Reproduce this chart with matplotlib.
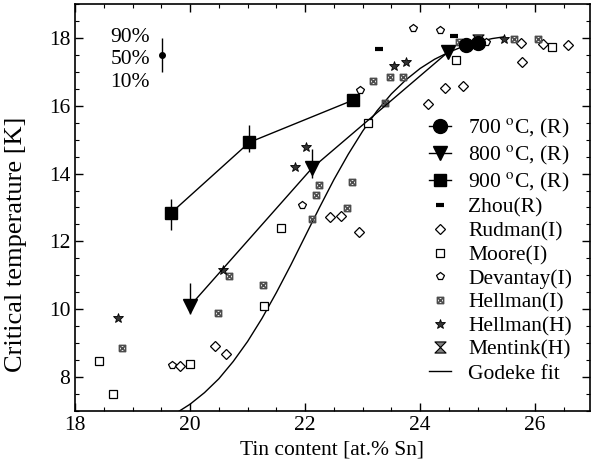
import numpy as np
import matplotlib.pyplot as plt
from matplotlib.path import Path

plt.rcParams['font.family'] = ['Liberation Serif', 'DejaVu Serif']
plt.rcParams['mathtext.fontset'] = 'stix'

# annealed samples (R)
t700_x = [24.79, 25.0]
t700_y = [17.80, 17.85]

t800_x = [20.0, 22.12, 24.49]
t800_y = [10.1, 14.16, 17.59]
t800_lo = [9.85, 13.87, 17.59]   # 10% values
t800_hi = [10.78, 14.73, 17.59]  # 90% values

t900_x = [19.67, 21.03, 22.84]
t900_y = [12.84, 14.92, 16.17]
t900_lo = [12.34, 14.65, 16.17]
t900_hi = [13.25, 15.43, 16.17]

zhou_x = [23.29, 24.59]
zhou_y = [17.67, 18.06]

rudman_x = [19.83, 20.43, 20.63, 22.43, 22.62, 22.93, 24.13, 24.43, 24.75, 25.75, 25.77, 26.13, 26.57]
rudman_y = [8.32, 8.91, 8.67, 12.71, 12.76, 12.29, 16.04, 16.52, 16.58, 17.84, 17.29, 17.81, 17.79]

moore_x = [18.42, 18.66, 20.0, 21.28, 21.58, 23.09, 24.62, 26.29]
moore_y = [8.47, 7.49, 8.39, 10.09, 12.39, 15.5, 17.36, 17.74]

devantay_x = [19.68, 21.94, 22.96, 23.88, 24.34, 25.15]
devantay_y = [8.37, 13.06, 16.46, 18.28, 18.23, 17.87]

hellI_x = [18.81, 20.48, 20.68, 21.26, 22.12, 22.19, 22.25, 22.72, 22.81, 23.18, 23.39, 23.47, 23.70, 24.68, 25.64, 26.05]
hellI_y = [8.86, 9.89, 10.99, 10.71, 12.66, 13.38, 13.65, 12.98, 13.76, 16.74, 16.09, 16.84, 16.85, 17.88, 17.98, 17.98]

hellH_x = [18.74, 20.58, 21.82, 22.01, 23.55, 23.76, 25.45]
hellH_y = [9.75, 11.17, 14.18, 14.79, 17.17, 17.28, 17.96]

mentink_x = [25.0]
mentink_y = [17.95]

# Godeke fit
fit_x = [19.75, 20.0, 20.25, 20.5, 20.75, 21.0, 21.25, 21.5, 21.75, 22.0, 22.25, 22.5, 22.75,
         23.0, 23.25, 23.5, 23.75, 24.0, 24.25, 24.5, 24.75, 25.0, 25.25, 25.45]
fit_y = [6.93, 7.20, 7.54, 7.95, 8.46, 9.05, 9.73, 10.49, 11.30, 12.15, 13.00, 13.82, 14.57,
         15.25, 15.85, 16.35, 16.76, 17.10, 17.37, 17.58, 17.75, 17.88, 17.98, 18.03]

# custom markers
box_x = Path([(-1, -1), (1, -1), (1, 1), (-1, 1), (-1, -1), (-1, -1), (1, 1), (-1, 1), (1, -1)],
             [Path.MOVETO, Path.LINETO, Path.LINETO, Path.LINETO, Path.LINETO,
              Path.MOVETO, Path.LINETO, Path.MOVETO, Path.LINETO])
hourglass = Path([(-1, 1), (1, 1), (-1, -1), (1, -1), (-1, 1)],
                 [Path.MOVETO, Path.LINETO, Path.LINETO, Path.LINETO, Path.CLOSEPOLY])

fs = 15.5

fig = plt.figure(figsize=(5.91, 4.76), dpi=100)
ax = fig.add_axes([0.127, 0.1366, 0.871, 0.855])

ax.plot(fit_x, fit_y, '-', color='k', lw=1.0, zorder=2)

ax.plot(rudman_x, rudman_y, 'D', ms=5, mfc='white', mec='k', mew=0.9, ls='none', zorder=3)
ax.plot(moore_x, moore_y, 's', ms=5.5, mfc='white', mec='k', mew=0.9, ls='none', zorder=3)
ax.plot(devantay_x, devantay_y, 'p', ms=6, mfc='white', mec='k', mew=0.9, ls='none', zorder=3)
ax.plot(hellI_x, hellI_y, marker=box_x, ms=4.5, mfc='none', mec='0.3', mew=1.1, ls='none', zorder=3)
ax.plot(hellH_x, hellH_y, '*', ms=7.5, mfc='0.2', mec='k', mew=0.6, ls='none', zorder=3)
ax.plot(zhou_x, zhou_y, '_', ms=6, mec='k', mew=3, ls='none', zorder=3)
ax.plot(mentink_x, mentink_y, marker=hourglass, ms=8, mfc='0.5', mec='k', mew=0.8, ls='none', zorder=3)

ax.errorbar(t900_x, t900_y, yerr=[np.subtract(t900_y, t900_lo), np.subtract(t900_hi, t900_y)],
            fmt='-s', color='k', ms=8.5, lw=1.0, elinewidth=1.0, capsize=0, zorder=4)
ax.errorbar(t800_x, t800_y, yerr=[np.subtract(t800_y, t800_lo), np.subtract(t800_hi, t800_y)],
            fmt='-v', color='k', ms=10, lw=1.0, elinewidth=1.0, capsize=0, zorder=4)
ax.plot(t700_x, t700_y, '-o', color='k', ms=10, lw=1.0, zorder=5)

# legend handles
h = []
h.append(ax.plot([], [], '-o', color='k', ms=10, lw=1.0)[0])
h.append(ax.plot([], [], '-v', color='k', ms=10, lw=1.0)[0])
h.append(ax.plot([], [], '-s', color='k', ms=8.5, lw=1.0)[0])
h.append(ax.plot([], [], '_', ms=6, mec='k', mew=3, ls='none')[0])
h.append(ax.plot([], [], 'D', ms=5, mfc='white', mec='k', mew=0.9, ls='none')[0])
h.append(ax.plot([], [], 's', ms=5.5, mfc='white', mec='k', mew=0.9, ls='none')[0])
h.append(ax.plot([], [], 'p', ms=6, mfc='white', mec='k', mew=0.9, ls='none')[0])
h.append(ax.plot([], [], marker=box_x, ms=4.5, mfc='none', mec='0.3', mew=1.1, ls='none')[0])
h.append(ax.plot([], [], '*', ms=7.5, mfc='0.2', mec='k', mew=0.6, ls='none')[0])
h.append(ax.plot([], [], marker=hourglass, ms=8, mfc='0.5', mec='k', mew=0.8, ls='none')[0])
h.append(ax.plot([], [], '-', color='k', lw=1.0)[0])
labels = ['700 $^{\\mathrm{o}}$C, (R)', '800 $^{\\mathrm{o}}$C, (R)', '900 $^{\\mathrm{o}}$C, (R)',
          'Zhou(R)', 'Rudman(I)', 'Moore(I)', 'Devantay(I)', 'Hellman(I)', 'Hellman(H)',
          'Mentink(H)', 'Godeke fit']
ax.legend(h, labels, loc='lower right', bbox_to_anchor=(0.995, 0.03), frameon=False,
          fontsize=fs, handlelength=1.0, handletextpad=0.8, labelspacing=0.17, borderpad=0.2)

# percentile key
ax.errorbar([19.51], [17.49], yerr=[[0.49], [0.51]], fmt='o', color='k', ms=4, elinewidth=1.0, capsize=0)
ax.text(19.3, 18.0, '90%', ha='right', va='center', fontsize=fs)
ax.text(19.3, 17.35, '50%', ha='right', va='center', fontsize=fs)
ax.text(19.3, 16.7, '10%', ha='right', va='center', fontsize=fs)

ax.set_xlim(18, 26.95)
ax.set_ylim(7, 19)
ax.set_xticks([18, 20, 22, 24, 26])
ax.set_yticks([8, 10, 12, 14, 16, 18])
ax.set_xticks(np.arange(18, 27, 0.5), minor=True)
ax.set_yticks(np.arange(7, 19.01, 0.5), minor=True)
ax.tick_params(which='both', direction='in', top=True, right=True, labelsize=fs)
ax.tick_params(which='major', length=6, width=1.0)
ax.tick_params(which='minor', length=3, width=0.8)
for s in ax.spines.values():
    s.set_linewidth(1.2)
ax.set_xlabel('Tin content [at.% Sn]', fontsize=fs)
ax.set_ylabel('Critical temperature [K]', fontsize=19)
ax.yaxis.set_label_coords(-0.093, 0.41)

fig.savefig('out.png', dpi=100)
